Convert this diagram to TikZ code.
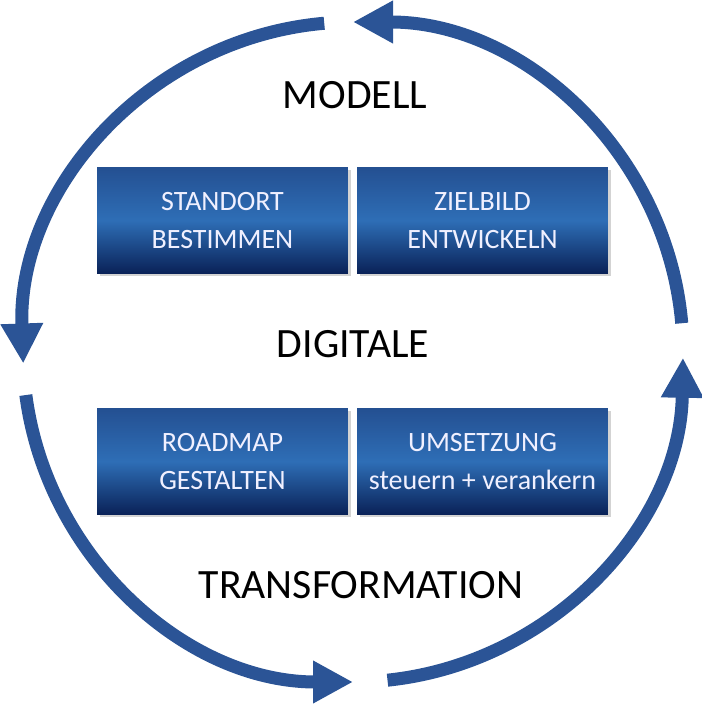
\documentclass[tikz,border=0pt]{standalone}
\usepackage{fontspec}
\setmainfont{Carlito}
\usepackage{tikz}
\usetikzlibrary{arrows.meta}
\usetikzlibrary{shadows}

\definecolor{cyclearrow}{RGB}{43,84,150}
\definecolor{boxtop}{RGB}{36,80,146}
\definecolor{boxmid}{RGB}{46,110,182}
\definecolor{boxbot}{RGB}{10,34,88}

\tikzset{
    cycle/.style={draw=cyclearrow,line width=9.75pt,
        -{Triangle[length=30pt,width=30pt]}},
    stepbox/.style={rectangle,minimum width=188pt,minimum height=79pt,
        inner sep=0pt,top color=boxtop,bottom color=boxbot,middle color=boxmid,
        text=white!94!blue,align=center,font=\fontsize{21}{28.5}\selectfont,
        drop shadow={shadow xshift=2pt,shadow yshift=-2pt,opacity=0.35}},
    title/.style={font=\fontsize{31.3}{34}\selectfont,text=black}
}

\begin{document}
\begin{tikzpicture}[x=0.75pt,y=0.75pt]
        \useasboundingbox (0,0) rectangle (702,706);
        \coordinate (C) at (353,354);

            % Cycle arrows
            \draw[cycle] (C) ++(5:330) arc[start angle=5,end angle=90,radius=330];
            \draw[cycle] (C) ++(95:330) arc[start angle=95,end angle=182,radius=330];
            \draw[cycle] (C) ++(187.5:330) arc[start angle=187.5,end angle=270,radius=330];
            \draw[cycle] (C) ++(276:330) arc[start angle=276,end angle=359,radius=330];

            % Titles
            \node[title] (T1) at (355,611) {MODELL};
            \node[title] (T2) at (353,362) {DIGITALE};
            \node[title] (T3) at (361,121) {TRANSFORMATION};

            % Steps
            \node[stepbox] (S1) at (222.5,485.5) {STANDORT\\BESTIMMEN};
            \node[stepbox] (S2) at (482.5,485.5) {ZIELBILD\\ENTWICKELN};
            \node[stepbox] (S3) at (222.5,244.5) {ROADMAP\\GESTALTEN};
            \node[stepbox] (S4) at (482.5,244.5) {UMSETZUNG\\steuern + verankern};

\end{tikzpicture}
\end{document}
